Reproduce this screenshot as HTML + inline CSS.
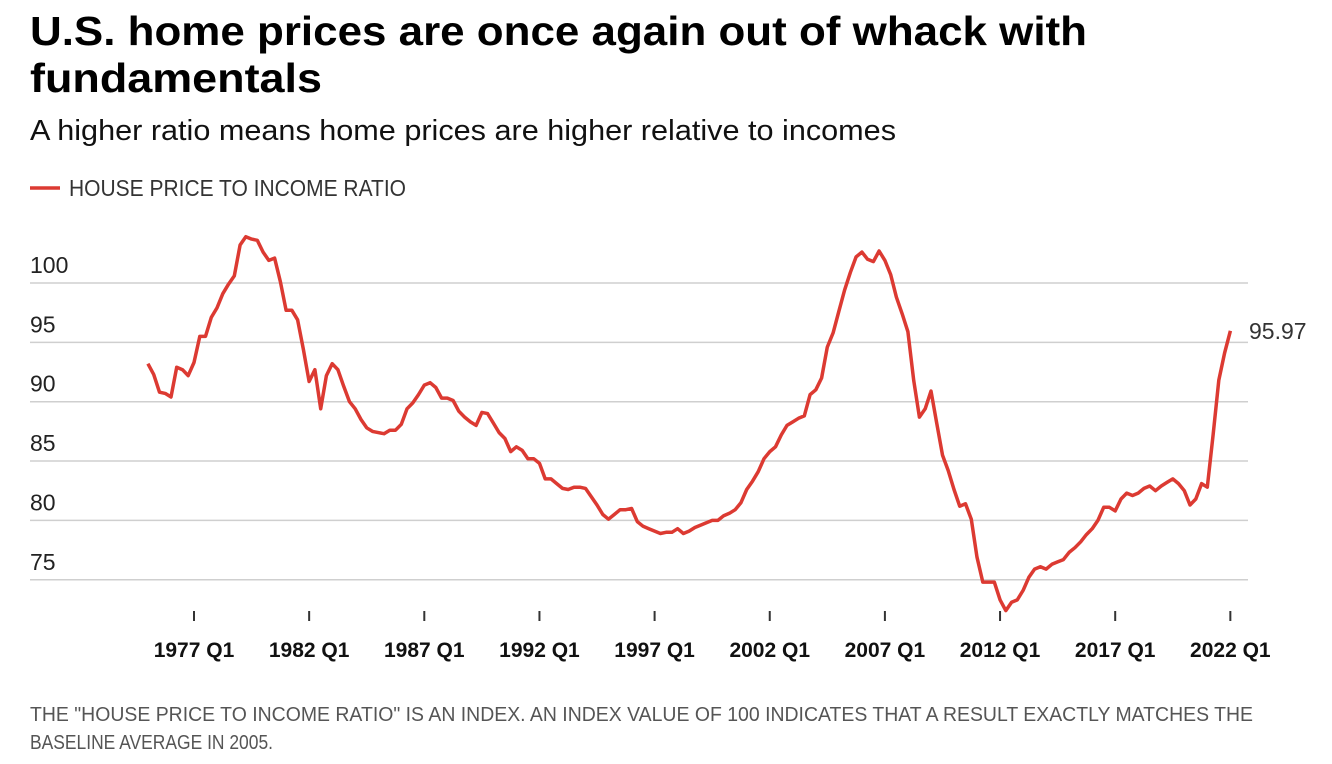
<!DOCTYPE html>
<html><head><meta charset="utf-8"><style>
html,body{margin:0;padding:0;background:#fff;}
svg{display:block;font-family:"Liberation Sans Narrow","Liberation Sans",sans-serif;}
</style></head><body>
<svg id="chart" width="1332" height="764" viewBox="0 0 1332 764">
<text x="30" y="45" font-size="41" font-weight="bold" font-family="Liberation Sans, sans-serif" textLength="1057" lengthAdjust="spacingAndGlyphs" fill="#000">U.S. home prices are once again out of whack with</text>
<text x="30" y="92" font-size="41" font-weight="bold" font-family="Liberation Sans, sans-serif" textLength="292" lengthAdjust="spacingAndGlyphs" fill="#000">fundamentals</text>
<text x="30" y="140" font-size="29" textLength="866" lengthAdjust="spacingAndGlyphs" fill="#111">A higher ratio means home prices are higher relative to incomes</text>
<g>
<line x1="30" y1="188" x2="60" y2="188" stroke="#dc3a32" stroke-width="3.5"/>
<text x="69" y="196" font-size="23" textLength="337" lengthAdjust="spacingAndGlyphs" fill="#333">HOUSE PRICE TO INCOME RATIO</text>
</g>
<g id="grid"></g><g id="yl"></g><g id="xt"></g>
<path id="line" fill="none" stroke="#dc3a32" stroke-width="3.5" stroke-linejoin="round"/>
<text id="endlabel" x="1249" y="343" font-size="23" fill="#333">95.97</text>
<text x="30" y="721" font-size="20.5" textLength="1223" lengthAdjust="spacingAndGlyphs" fill="#555">THE "HOUSE PRICE TO INCOME RATIO" IS AN INDEX. AN INDEX VALUE OF 100 INDICATES THAT A RESULT EXACTLY MATCHES THE</text>
<text x="30" y="749" font-size="20.5" textLength="243" lengthAdjust="spacingAndGlyphs" fill="#555">BASELINE AVERAGE IN 2005.</text>
</svg>
<script>
const yTicks = [75, 80, 85, 90, 95, 100];
const xTickLabels = ["1977 Q1","1982 Q1","1987 Q1","1992 Q1","1997 Q1","2002 Q1","2007 Q1","2012 Q1","2017 Q1","2022 Q1"];
const xTickYears = [1977,1982,1987,1992,1997,2002,2007,2012,2017,2022];
const startYear = 1975, endYear = 2022;
const values = [
93.2,92.3,90.8,90.7,90.4,92.9,92.7,92.2,93.3,95.5,95.5,97.1,97.9,99.1,99.9,100.6,103.2,103.9,103.7,103.6,102.6,101.9,102.1,100.1,97.7,97.7,96.9,94.4,91.7,92.7,89.4,92.2,93.2,92.7,91.3,90.0,89.4,88.5,87.8,87.5,87.4,87.3,87.6,87.6,88.1,89.4,89.9,90.6,91.4,91.6,91.2,90.3,90.3,90.1,89.2,88.7,88.3,88.0,89.1,89.0,88.2,87.4,86.9,85.8,86.2,85.9,85.2,
85.2,84.8,83.5,83.5,83.1,82.7,82.6,82.8,82.8,82.7,82.0,81.3,80.5,80.1,80.5,80.9,80.9,81.0,79.9,79.5,79.3,79.1,78.9,79.0,79.0,79.3,78.9,79.1,79.4,79.6,79.8,80.0,80.0,80.4,80.6,80.9,81.5,82.6,83.3,84.1,85.2,85.8,86.2,87.2,88.0,88.3,88.6,88.8,90.6,91.0,92.0,94.6,95.8,97.6,99.4,100.9,102.2,102.6,102.0,101.8,102.7,101.9,100.7,98.8,97.4,95.9,
91.8,88.7,89.4,90.9,88.2,85.5,84.2,82.6,81.2,81.4,80.1,76.9,74.8,74.8,74.8,73.3,72.4,73.1,73.3,74.1,75.2,75.9,76.1,75.9,76.3,76.5,76.7,77.3,77.7,78.2,78.8,79.3,80.0,81.1,81.1,80.8,81.8,82.3,82.1,82.3,82.7,82.9,82.5,82.9,83.2,83.5,83.1,82.5,81.3,81.8,83.1,82.8,87.2,91.8,94.1,95.97];
const NS="http://www.w3.org/2000/svg";
function yS(v){return 283+(100-v)*11.87;}
function xYear(y){return 194+(y-1977)*23.03;}
function xI(i){return xYear(startYear)+i*(xYear(endYear)-xYear(startYear))/(values.length-1);}
const grid=document.getElementById('grid'),yl=document.getElementById('yl'),xt=document.getElementById('xt');
yTicks.forEach(v=>{
 const l=document.createElementNS(NS,'line');
 l.setAttribute('x1',30);l.setAttribute('x2',1248);l.setAttribute('y1',yS(v));l.setAttribute('y2',yS(v));
 l.setAttribute('stroke','#cfcfcf');l.setAttribute('stroke-width','1.5');
 
 
 grid.appendChild(l);
 const t=document.createElementNS(NS,'text');
 t.setAttribute('x',30);t.setAttribute('y',yS(v)-10);t.setAttribute('font-size','23');t.setAttribute('fill','#222');
 t.textContent=v;
 
 
 yl.appendChild(t);
});
xTickYears.forEach((yr,i)=>{
 const x=xYear(yr);
 const l=document.createElementNS(NS,'line');
 l.setAttribute('x1',x);l.setAttribute('x2',x);l.setAttribute('y1',611);l.setAttribute('y2',621);
 l.setAttribute('stroke','#333');l.setAttribute('stroke-width','2');
 
 
 xt.appendChild(l);
 const t=document.createElementNS(NS,'text');
 t.setAttribute('x',x);t.setAttribute('y',657);t.setAttribute('font-size','21');t.setAttribute('font-weight','bold');
 t.setAttribute('text-anchor','middle');t.setAttribute('fill','#111');
 t.textContent=xTickLabels[i];
 
 
 xt.appendChild(t);
});
document.getElementById('line').setAttribute('d',values.map((v,i)=>(i?'L':'M')+xI(i).toFixed(1)+','+yS(v).toFixed(1)).join(''));
const last=values[values.length-1];
const el=document.getElementById('endlabel');
el.setAttribute('y',yS(last)+8);
el.textContent=last.toFixed(2);
</script>
</body></html>
